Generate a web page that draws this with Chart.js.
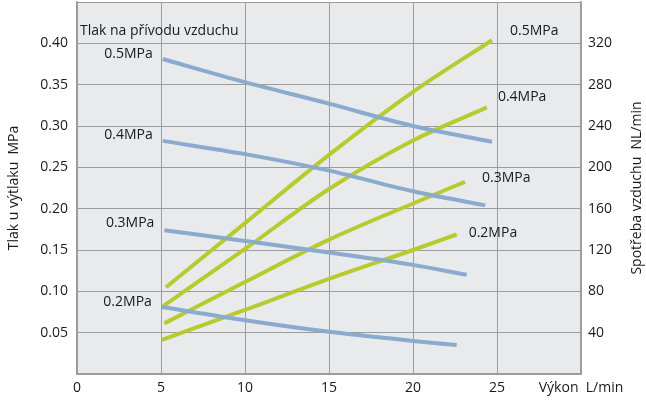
<!DOCTYPE html>
<html>
<head>
  <title>Tlak u výtlaku a spotřeba vzduchu</title>
  <script src="https://cdn.jsdelivr.net/npm/chart.js"></script>
  <style>
    html, body {
      margin: 0;
      padding: 0;
      background: #fff;
    }
  </style>
</head>
<body>
  <canvas id="airChart" width="646" height="400"></canvas>
  <script>
    // Tlak u výtlaku (MPa) podle výkonu (L/min) - modré křivky, levá osa
    const press05X = [5.1, 10, 15, 20, 24.7];
    const press05Y = [0.381, 0.353, 0.327, 0.300, 0.281];
    const press04X = [5.1, 10, 15, 20, 24.3];
    const press04Y = [0.282, 0.266, 0.246, 0.221, 0.204];
    const press03X = [5.2, 10, 15, 20, 23.2];
    const press03Y = [0.174, 0.161, 0.147, 0.132, 0.120];
    const press02X = [5.05, 10, 15, 20, 22.6];
    const press02Y = [0.081, 0.065, 0.051, 0.040, 0.035];

    // Spotřeba vzduchu (NL/min) - zelené křivky, pravá osa
    const air05X = [5.3, 10, 15, 20, 24.7];
    const air05Y = [84, 146, 212, 273, 323];
    const air04X = [5.15, 10, 15, 20, 24.4];
    const air04Y = [66, 121, 179, 226, 258];
    const air03X = [5.2, 10, 15, 20, 23.1];
    const air03Y = [49, 89, 130, 165, 186];
    const air02X = [5.05, 10, 15, 20, 22.6];
    const air02Y = [33, 62, 92, 120, 135];

    const supplyLabels = ['0.5MPa', '0.4MPa', '0.3MPa', '0.2MPa'];

    const BLUE = '#8aaace';
    const GREEN = '#b7cb2f';
    const GRID = '#9c9c9c';
    const FONT = { family: 'Open Sans', size: 14 };

    function pts(xs, ys) {
      return xs.map((x, i) => ({ x: x, y: ys[i] }));
    }

    function line(label, xs, ys, color, axis, note) {
      return {
        label: label,
        data: pts(xs, ys),
        borderColor: color,
        borderWidth: 4,
        pointRadius: 0,
        fill: false,
        cubicInterpolationMode: 'monotone',
        yAxisID: axis,
        note: note
      };
    }

    // plocha grafu + popisky u křivek
    const decor = {
      id: 'decor',
      beforeDraw(chart) {
        const { ctx, chartArea: a } = chart;
        ctx.save();
        ctx.fillStyle = '#e9eaec';
        ctx.fillRect(a.left, a.top, a.right - a.left, a.bottom - a.top);
        ctx.restore();
      },
      afterDatasetsDraw(chart) {
        const { ctx, chartArea: a, scales } = chart;
        ctx.save();
        ctx.font = FONT.size + 'px ' + FONT.family;
        ctx.fillStyle = '#1a1a1a';
        ctx.textBaseline = 'middle';

        chart.data.datasets.forEach((ds, i) => {
          const n = ds.note;
          const meta = chart.getDatasetMeta(i);
          const p = n.atEnd ? meta.data[meta.data.length - 1] : meta.data[0];
          ctx.textAlign = n.atEnd ? 'left' : 'right';
          ctx.fillText(ds.label, p.x + n.dx, p.y + n.dy);
        });

        ctx.textAlign = 'left';
        ctx.fillText('Tlak na přívodu vzduchu', scales.x.getPixelForValue(0) + 3, scales.y.getPixelForValue(0.415));

        // titulek pravé osy (čte se zdola nahoru)
        ctx.translate(637, (a.top + a.bottom) / 2);
        ctx.rotate(-Math.PI / 2);
        ctx.textAlign = 'center';
        ctx.fillText('Spotřeba vzduchu  NL/min', 0, 0);
        ctx.restore();
      }
    };

    function fixWidth(w) {
      return (s) => {
        s.width = w;
        s.paddingTop = 0;
        s.paddingBottom = 0;
      };
    }

    const ctx = document.getElementById('airChart').getContext('2d');
    new Chart(ctx, {
      type: 'line',
      data: {
        datasets: [
          line(supplyLabels[0], press05X, press05Y, BLUE, 'y', { dx: -10, dy: -5 }),
          line(supplyLabels[1], press04X, press04Y, BLUE, 'y', { dx: -10, dy: -6 }),
          line(supplyLabels[2], press03X, press03Y, BLUE, 'y', { dx: -10, dy: -7 }),
          line(supplyLabels[3], press02X, press02Y, BLUE, 'y', { dx: -10, dy: -5 }),
          line(supplyLabels[0], air05X, air05Y, GREEN, 'y1', { atEnd: true, dx: 18, dy: -9 }),
          line(supplyLabels[1], air04X, air04Y, GREEN, 'y1', { atEnd: true, dx: 11, dy: -10 }),
          line(supplyLabels[2], air03X, air03Y, GREEN, 'y1', { atEnd: true, dx: 17, dy: -4 }),
          line(supplyLabels[3], air02X, air02Y, GREEN, 'y1', { atEnd: true, dx: 12, dy: -1 })
        ]
      },
      options: {
        responsive: false,
        animation: false,
        layout: { padding: { top: 2 } },
        plugins: {
          legend: { display: false },
          tooltip: { enabled: false }
        },
        scales: {
          x: {
            type: 'linear',
            min: 0,
            max: 30,
            afterFit: (s) => { s.height = 26; },
            border: { color: GRID, width: 1.5 },
            grid: { color: GRID, drawTicks: false },
            ticks: {
              stepSize: 5,
              padding: 6,
              maxRotation: 0,
              autoSkip: false,
              color: '#1a1a1a',
              font: FONT,
              callback: (v) => (v === 30 ? 'Výkon  L/min' : v)
            }
          },
          y: {
            position: 'left',
            min: 0,
            max: 0.45,
            afterFit: fixWidth(77),
            border: { color: GRID, width: 1.5 },
            grid: { color: GRID, drawTicks: false },
            ticks: {
              stepSize: 0.05,
              padding: 9,
              autoSkip: false,
              color: '#1a1a1a',
              font: FONT,
              callback: (v) => (v < 0.01 || v > 0.44 ? '' : v.toFixed(2))
            },
            title: {
              display: true,
              text: 'Tlak u výtlaku  MPa',
              color: '#1a1a1a',
              font: FONT,
              padding: { top: 6, bottom: 0 }
            }
          },
          y1: {
            position: 'right',
            min: 0,
            max: 360,
            afterFit: fixWidth(65),
            border: { color: GRID, width: 1.5 },
            grid: { drawOnChartArea: false, drawTicks: false },
            ticks: {
              stepSize: 40,
              padding: 7,
              autoSkip: false,
              color: '#1a1a1a',
              font: FONT,
              callback: (v) => (v === 0 || v === 360 ? '' : v)
            }
          }
        }
      },
      plugins: [decor]
    });
  </script>
</body>
</html>
